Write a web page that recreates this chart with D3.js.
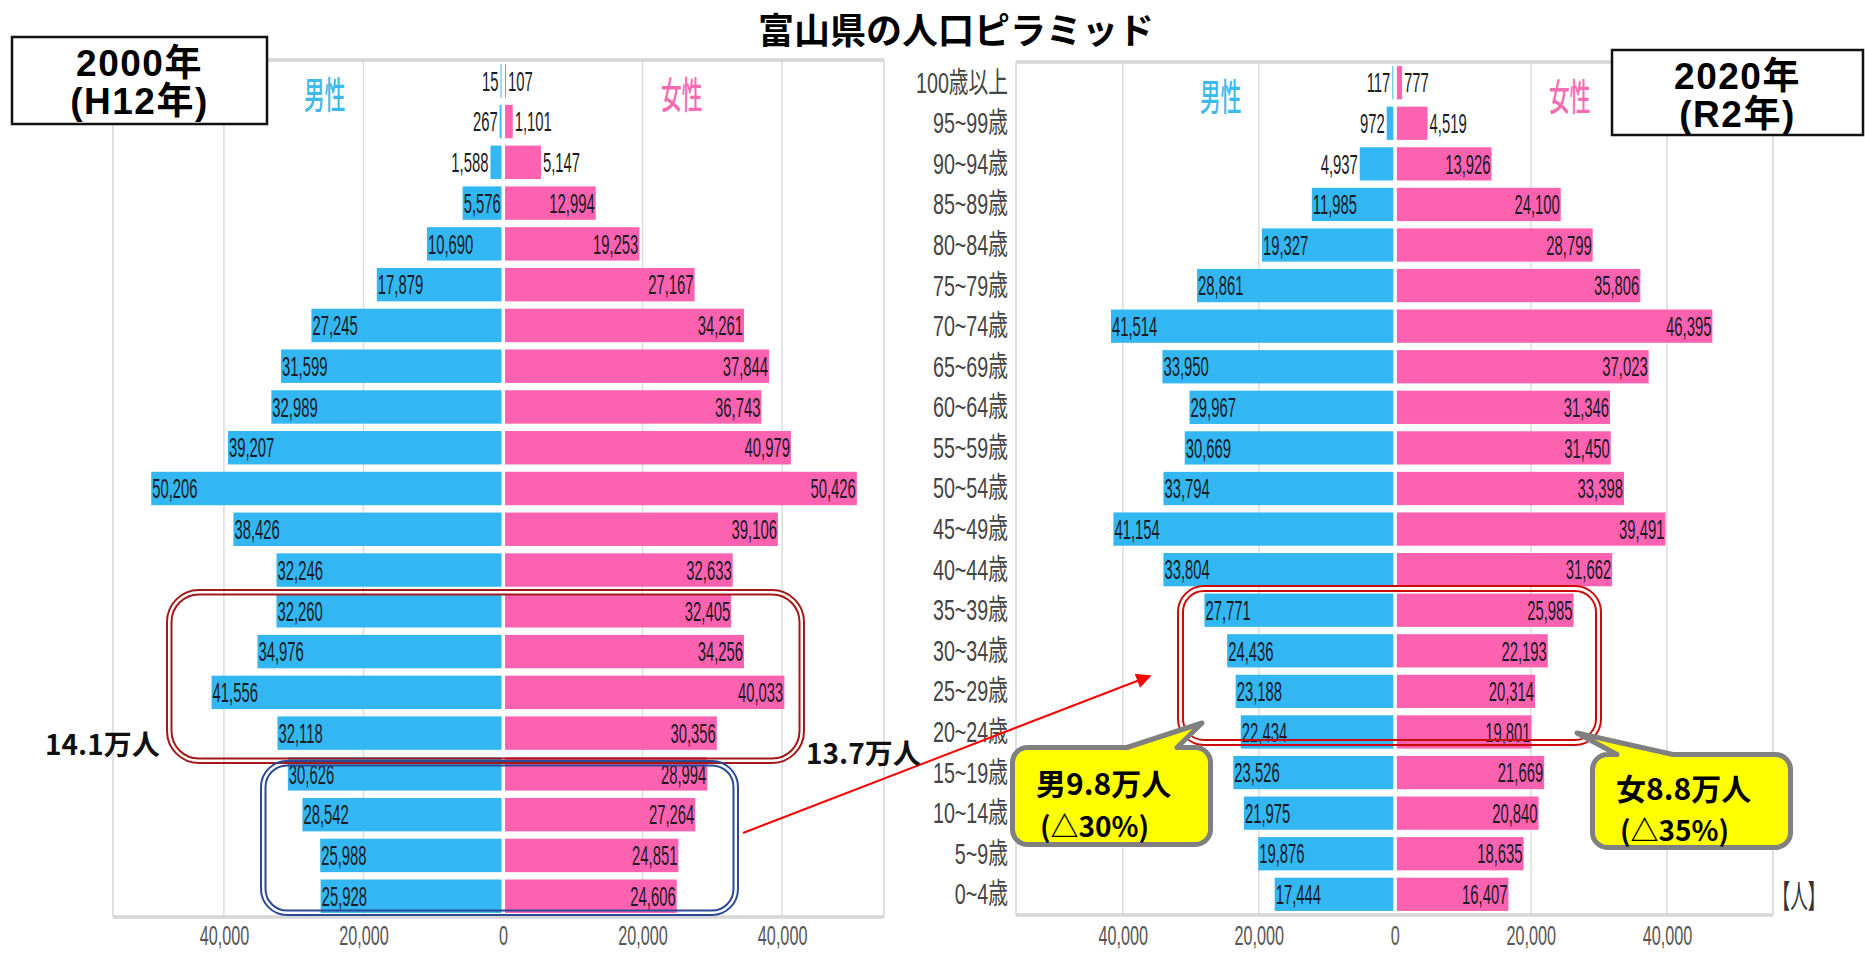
<!DOCTYPE html>
<html lang="ja">
<head>
<meta charset="utf-8">
<title>富山県の人口ピラミッド</title>
<script src="https://cdn.jsdelivr.net/npm/d3@7/dist/d3.min.js"></script>
<style>
  html, body { margin: 0; padding: 0; background: #fff; }
  svg { display: block; }
  text { font-family: "Liberation Sans", "Noto Sans CJK JP", sans-serif; }
  .cjk { font-family: "Noto Sans CJK JP", "Liberation Sans", sans-serif; }
</style>
</head>
<body>
<svg id="chart" width="1865" height="953"></svg>
<script>
// 年齢階級（上から 100歳以上 → 0~4歳）
const ages = ["100歳以上", "95~99歳", "90~94歳", "85~89歳", "80~84歳", "75~79歳",
  "70~74歳", "65~69歳", "60~64歳", "55~59歳", "50~54歳", "45~49歳", "40~44歳",
  "35~39歳", "30~34歳", "25~29歳", "20~24歳", "15~19歳", "10~14歳", "5~9歳", "0~4歳"];

// 2000年（H12年）男女別人口
const male2000 = [15, 267, 1588, 5576, 10690, 17879, 27245, 31599, 32989, 39207, 50206,
  38426, 32246, 32260, 34976, 41556, 32118, 30626, 28542, 25988, 25928];
const female2000 = [107, 1101, 5147, 12994, 19253, 27167, 34261, 37844, 36743, 40979, 50426,
  39106, 32633, 32405, 34256, 40033, 30356, 28994, 27264, 24851, 24606];

// 2020年（R2年）男女別人口
const male2020 = [117, 972, 4937, 11985, 19327, 28861, 41514, 33950, 29967, 30669, 33794,
  41154, 33804, 27771, 24436, 23188, 22434, 23526, 21975, 19876, 17444];
const female2020 = [777, 4519, 13926, 24100, 28799, 35806, 46395, 37023, 31346, 31450, 33398,
  39491, 31662, 25985, 22193, 20314, 19801, 21669, 20840, 18635, 16407];

// 横軸の目盛
const xTickValues = [-40000, -20000, 0, 20000, 40000];

const BLUE = "#33b7f2";
const PINK = "#fc62b0";
const FRAME = "#d6d6d6";
const GRID = "#dcdcdc";
const INSIDE_MIN = 5500;   // これ以上の値はバーの内側にラベルを置く

const svg = d3.select("#chart");
const fmt = d3.format(",");

// 横に詰めた文字を描く
function squeezed(g, x, y, str, opts) {
  const t = g.append("text")
    .attr("transform", `translate(${x},${y}) scale(${opts.sx},1)`)
    .attr("text-anchor", opts.anchor || "start")
    .attr("font-size", opts.size)
    .attr("fill", opts.fill || "#222")
    .text(str);
  if (opts.dy) t.attr("dy", opts.dy);
  if (opts.weight) t.attr("font-weight", opts.weight);
  if (opts.cls) t.attr("class", opts.cls);
  return t;
}

function drawPyramid(cfg) {
  const g = svg.append("g");
  const x = d3.scaleLinear().domain(cfg.domain).range([cfg.left, cfg.right]);
  const y = d3.scaleBand().domain(ages).range([cfg.top, cfg.bottom])
    .paddingInner(0.18).paddingOuter(0.1);
  const x0 = x(0);

  // 目盛線
  g.selectAll("line.grid").data(xTickValues.filter(v => v !== 0)).join("line")
    .attr("x1", d => x(d)).attr("x2", d => x(d))
    .attr("y1", cfg.top).attr("y2", cfg.bottom)
    .attr("stroke", GRID).attr("stroke-width", 1.5);

  // 枠
  g.append("line").attr("x1", cfg.left).attr("x2", cfg.left)
    .attr("y1", cfg.top).attr("y2", cfg.bottom).attr("stroke", FRAME).attr("stroke-width", 1.5);
  g.append("line").attr("x1", cfg.right).attr("x2", cfg.right)
    .attr("y1", cfg.top).attr("y2", cfg.bottom).attr("stroke", FRAME).attr("stroke-width", 1.5);
  g.append("line").attr("x1", cfg.left).attr("x2", cfg.right)
    .attr("y1", cfg.top).attr("y2", cfg.top).attr("stroke", FRAME).attr("stroke-width", 3.5);

  const rows = ages.map((a, i) => ({ age: a, m: cfg.male[i], f: cfg.female[i] }));
  const mWidth = d => Math.max(1, x0 - x(-d.m));
  const fWidth = d => Math.max(1, x(d.f) - x0);

  // 男性（左向き）
  g.selectAll("rect.m").data(rows).join("rect")
    .attr("x", d => (x0 - 1.5) - mWidth(d))
    .attr("width", mWidth)
    .attr("y", d => y(d.age)).attr("height", y.bandwidth())
    .attr("fill", BLUE);

  // 女性（右向き）
  g.selectAll("rect.f").data(rows).join("rect")
    .attr("x", x0 + 2)
    .attr("width", fWidth)
    .attr("y", d => y(d.age)).attr("height", y.bandwidth())
    .attr("fill", PINK);

  // 数値ラベル
  const lab = { size: 27, sx: 0.55, dy: "0.36em", fill: "#1b1b26" };
  rows.forEach(d => {
    const cy = y(d.age) + y.bandwidth() / 2;
    const mLeft = (x0 - 1.5) - mWidth(d);
    if (d.m >= INSIDE_MIN) squeezed(g, mLeft + 1, cy, fmt(d.m), { ...lab, anchor: "start" });
    else squeezed(g, mLeft - 2, cy, fmt(d.m), { ...lab, anchor: "end" });
    const fRight = x0 + 2 + fWidth(d);
    if (d.f >= INSIDE_MIN) squeezed(g, fRight - 1, cy, fmt(d.f), { ...lab, anchor: "end" });
    else squeezed(g, fRight + 2, cy, fmt(d.f), { ...lab, anchor: "start" });
  });

  // 下軸
  const axis = d3.axisBottom(x).tickValues(xTickValues)
    .tickFormat(d => fmt(Math.abs(d))).tickSize(0).tickPadding(0);
  const ax = g.append("g").attr("transform", `translate(0,${cfg.bottom})`).call(axis);
  ax.select(".domain").remove();
  ax.selectAll("text")
    .attr("y", 0).attr("dy", 0)
    .attr("transform", `translate(0,${936 - cfg.bottom}) scale(0.6,1)`)
    .attr("dominant-baseline", "central")
    .attr("font-size", 27).attr("fill", "#555")
    .attr("font-family", "Liberation Sans, sans-serif");
  g.append("line").attr("x1", cfg.left).attr("x2", cfg.right)
    .attr("y1", cfg.bottom).attr("y2", cfg.bottom).attr("stroke", FRAME).attr("stroke-width", 3.5);

  // 年齢ラベル
  if (cfg.showAges) {
    const ya = d3.axisLeft(y).tickSize(0).tickPadding(0);
    const ay = g.append("g").attr("transform", `translate(${cfg.left - 8},0)`).call(ya);
    ay.select(".domain").remove();
    ay.selectAll("text")
      .attr("x", 0).attr("dy", 0)
      .attr("dominant-baseline", "central")
      .attr("transform", "scale(0.68,1)")
      .attr("font-size", 29).attr("fill", "#444")
      .attr("font-family", "Liberation Sans, Noto Sans CJK JP, sans-serif");
  }

  // 男性・女性の見出し
  squeezed(g, cfg.maleLabelX, cfg.top + 49, "男性",
    { size: 37, sx: 0.56, fill: "#3db9ea", cls: "cjk", weight: 500 });
  squeezed(g, cfg.femaleLabelX, cfg.top + 49, "女性",
    { size: 37, sx: 0.56, fill: "#f56cb2", cls: "cjk", weight: 500 });

  return { x, y };
}

drawPyramid({
  left: 113, right: 884, top: 60, bottom: 917,
  domain: [-55900, 54600], male: male2000, female: female2000,
  showAges: false, maleLabelX: 304, femaleLabelX: 661
});

drawPyramid({
  left: 1016, right: 1773, top: 62, bottom: 915,
  domain: [-55700, 55600], male: male2020, female: female2020,
  showAges: true, maleLabelX: 1200, femaleLabelX: 1549
});

// 単位
squeezed(svg, 1799, 897, "【人】", { size: 32, sx: 0.55, anchor: "middle", fill: "#333", dy: "0.35em", cls: "cjk" });

// 二重線の角丸枠
function doubleBox(x0, y0, x1, y1, r, color, gap) {
  const g = svg.append("g").attr("fill", "none").attr("stroke", color).attr("stroke-width", 2);
  g.append("rect").attr("x", x0).attr("y", y0).attr("width", x1 - x0).attr("height", y1 - y0)
    .attr("rx", r).attr("ry", r);
  g.append("rect").attr("x", x0 + gap).attr("y", y0 + gap)
    .attr("width", x1 - x0 - 2 * gap).attr("height", y1 - y0 - 2 * gap)
    .attr("rx", r - gap).attr("ry", r - gap);
}
doubleBox(167, 590, 804, 763, 32, "#a31818", 4.5);
doubleBox(261, 761, 738, 915, 26, "#2d4896", 4.5);
doubleBox(1178, 586, 1601, 745, 26, "#cc0a0a", 5);

// 矢印
svg.append("defs").append("marker")
  .attr("id", "arrowhead").attr("viewBox", "0 0 10 10")
  .attr("refX", 9).attr("refY", 5)
  .attr("markerWidth", 9).attr("markerHeight", 7.5)
  .attr("orient", "auto")
  .append("path").attr("d", "M0,0 L10,5 L0,10 Z").attr("fill", "#ff0000");
svg.append("line")
  .attr("x1", 743).attr("y1", 833).attr("x2", 1150).attr("y2", 676)
  .attr("stroke", "#ff0000").attr("stroke-width", 2)
  .attr("marker-end", "url(#arrowhead)");

// 合計の注記
svg.append("text").attr("class", "cjk").attr("x", 45).attr("y", 755)
  .attr("font-size", 28).attr("font-weight", "bold").attr("fill", "#111").text("14.1万人");
svg.append("text").attr("class", "cjk").attr("x", 806).attr("y", 764)
  .attr("font-size", 28).attr("font-weight", "bold").attr("fill", "#111").text("13.7万人");

// 吹き出し
function callout(x0, y0, x1, y1, r, ta, tb, tx, ty) {
  const p = d3.path();
  p.moveTo(x0 + r, y0);
  p.lineTo(ta, y0);
  p.lineTo(tx, ty);
  p.lineTo(tb, y0);
  p.lineTo(x1 - r, y0);
  p.arcTo(x1, y0, x1, y0 + r, r);
  p.lineTo(x1, y1 - r);
  p.arcTo(x1, y1, x1 - r, y1, r);
  p.lineTo(x0 + r, y1);
  p.arcTo(x0, y1, x0, y1 - r, r);
  p.lineTo(x0, y0 + r);
  p.arcTo(x0, y0, x0 + r, y0, r);
  p.closePath();
  svg.append("path").attr("d", p.toString())
    .attr("fill", "#ffff00").attr("stroke", "#808080")
    .attr("stroke-width", 5).attr("stroke-linejoin", "round");
}
callout(1012.5, 747.5, 1210.5, 844.5, 15, 1127, 1177, 1202, 723);
callout(1592.5, 754.5, 1790.5, 847.5, 15, 1617, 1673, 1577, 733);

function calloutText(x, y, str, size) {
  svg.append("text").attr("class", "cjk").attr("x", x).attr("y", y)
    .attr("font-size", size).attr("font-weight", "bold").attr("fill", "#000").text(str);
}
calloutText(1036, 795, "男9.8万人", 30);
calloutText(1040, 837, "(△30%)", 28);
calloutText(1616, 800, "女8.8万人", 30);
calloutText(1620, 841, "(△35%)", 28);

// 年次の枠
function yearBox(x0, y0, x1, y1, line1, line2, b1, b2) {
  svg.append("rect").attr("x", x0).attr("y", y0).attr("width", x1 - x0).attr("height", y1 - y0)
    .attr("fill", "#fff").attr("stroke", "#111").attr("stroke-width", 2.5);
  const cx = (x0 + x1) / 2;
  [[line1, b1], [line2, b2]].forEach(([s, b]) => {
    svg.append("text").attr("x", cx).attr("y", b).attr("text-anchor", "middle")
      .attr("font-size", 37).attr("font-weight", "bold").attr("letter-spacing", 1.5)
      .attr("fill", "#000").text(s);
  });
}
yearBox(12, 37, 267, 124, "2000年", "(H12年)", 76, 114);
yearBox(1612, 50, 1863, 135, "2020年", "(R2年)", 89, 127);

// タイトル
svg.append("text").attr("class", "cjk").attr("x", 956).attr("y", 44)
  .attr("text-anchor", "middle").attr("font-size", 36).attr("font-weight", "bold")
  .attr("fill", "#000").text("富山県の人口ピラミッド");
</script>
</body>
</html>
